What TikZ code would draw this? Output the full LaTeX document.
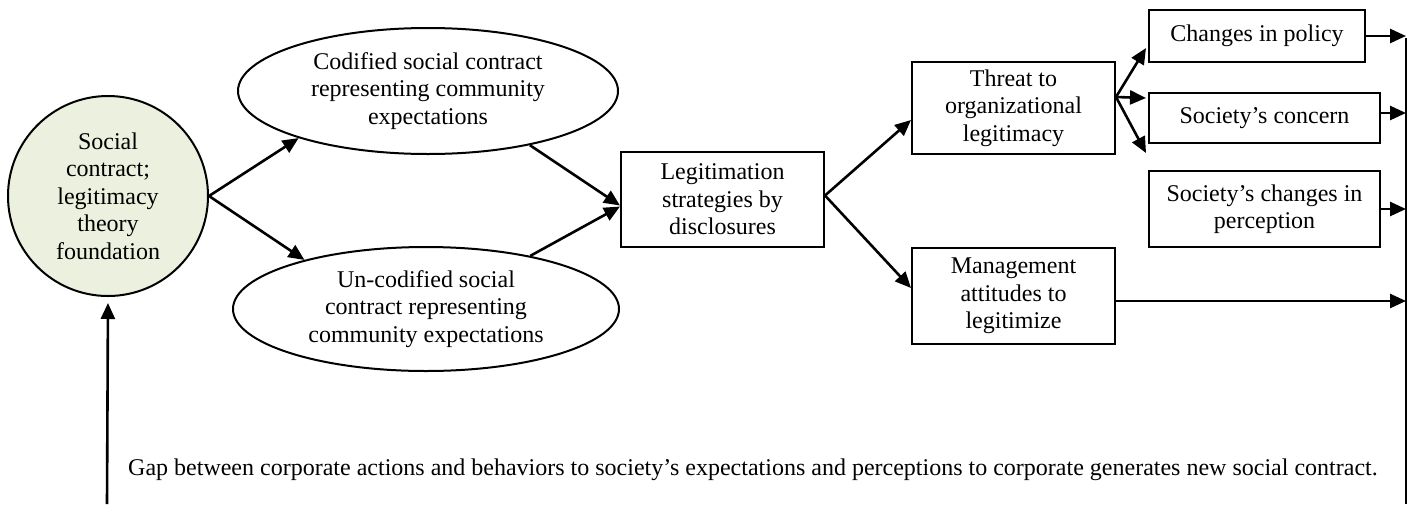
\documentclass[tikz,border=0pt]{standalone}
\usepackage{fontspec}
\setmainfont{Liberation Serif}
\usetikzlibrary{shapes.geometric,arrows.meta,calc}

\definecolor{foundfill}{HTML}{EBF1DE}

\tikzset{
  txt/.style={font=\fontsize{24}{27.5}\selectfont, align=center},
  box/.style={txt, draw, line width=2pt, inner sep=0pt},
  oval/.style={txt, ellipse, draw, line width=2pt, inner sep=0pt},
  arr/.style={line width=2.6pt, -{Triangle[length=16pt,width=14pt]}},
  plain/.style={line width=2pt}
}

\begin{document}
\begin{tikzpicture}[x=1pt,y=-1pt]
\path[use as bounding box] (0,0) rectangle (1410,504);

% foundation circle and the two social contract ellipses
\node[txt, circle, draw, line width=2pt, fill=foundfill, minimum size=200pt, inner sep=0pt]
  (circ) at (108,196) {Social\\contract;\\legitimacy\\theory\\foundation};
\node[oval, minimum width=380pt, minimum height=126pt] (codified) at (428,91)
  {Codified social contract\\representing community\\expectations};
\node[oval, minimum width=386pt, minimum height=124pt] (uncod) at (426,309)
  {Un-codified social\\contract representing\\community expectations};

% central boxes
\node[box, minimum width=203pt, minimum height=95pt] (legit) at (722.5,199.5)
  {Legitimation\\strategies by\\disclosures};
\node[box, minimum width=203pt, minimum height=92pt] (threat) at (1013.5,108)
  {Threat to\\organizational\\legitimacy};
\node[box, minimum width=203pt, minimum height=96pt] (mgmt) at (1013.5,296)
  {Management\\attitudes to\\legitimize};

% right-hand column
\node[box, minimum width=216pt, minimum height=52pt] (changes) at (1257,36)
  {Changes in policy};
\node[box, minimum width=231pt, minimum height=50pt] (concern) at (1264.5,118)
  {Society’s concern};
\node[box, minimum width=231pt, minimum height=76pt] (perc) at (1264.5,209)
  {Society’s changes in\\perception};

% feedback loop ends
\coordinate (rtop) at (1406,38);
\coordinate (rbot) at (1406,504);
\coordinate (lbot) at (107,504);

% bottom statement
\node[txt, anchor=base west, inner sep=0pt] (gap) at (128,475)
  {Gap between corporate actions and behaviors to society’s expectations and perceptions to corporate generates new social contract.};

% connectors
\draw[arr] (circ.east) -- (codified.200);
\draw[arr] (circ.east) -- (uncod.158);
\draw[arr] (codified.-28) -- ([yshift=-6pt]legit.west);
\draw[arr] (uncod.27) -- ([yshift=-7pt]legit.west);
\draw[arr] ([yshift=4pt]legit.east) -- ([yshift=-12pt]threat.west);
\draw[arr] ([yshift=4pt]legit.east) -- ([yshift=8pt]mgmt.west);
\draw[arr] ([yshift=11pt]threat.east) -- ([yshift=-12pt,xshift=-2pt]changes.west);
\draw[arr] ([yshift=11pt]threat.east) -- ([yshift=20pt,xshift=-2pt]concern.west);
\draw[arr] ([yshift=11pt]threat.east) -- ([yshift=-9pt,xshift=-2pt]concern.south west);

\draw[arr] (changes.east) -- (changes.east -| rtop);
\draw[arr] ([yshift=5pt]concern.east) -- ([yshift=5pt]concern.east -| rtop);
\draw[arr] (perc.east) -- (perc.east -| rtop);
\draw[arr] ([yshift=-5pt]mgmt.east) -- ([yshift=-5pt]mgmt.east -| rtop);
\draw[plain] (rtop) -- (rbot);
\draw[arr, shorten >=6pt] (lbot) -- (circ.south);
\end{tikzpicture}
\end{document}
